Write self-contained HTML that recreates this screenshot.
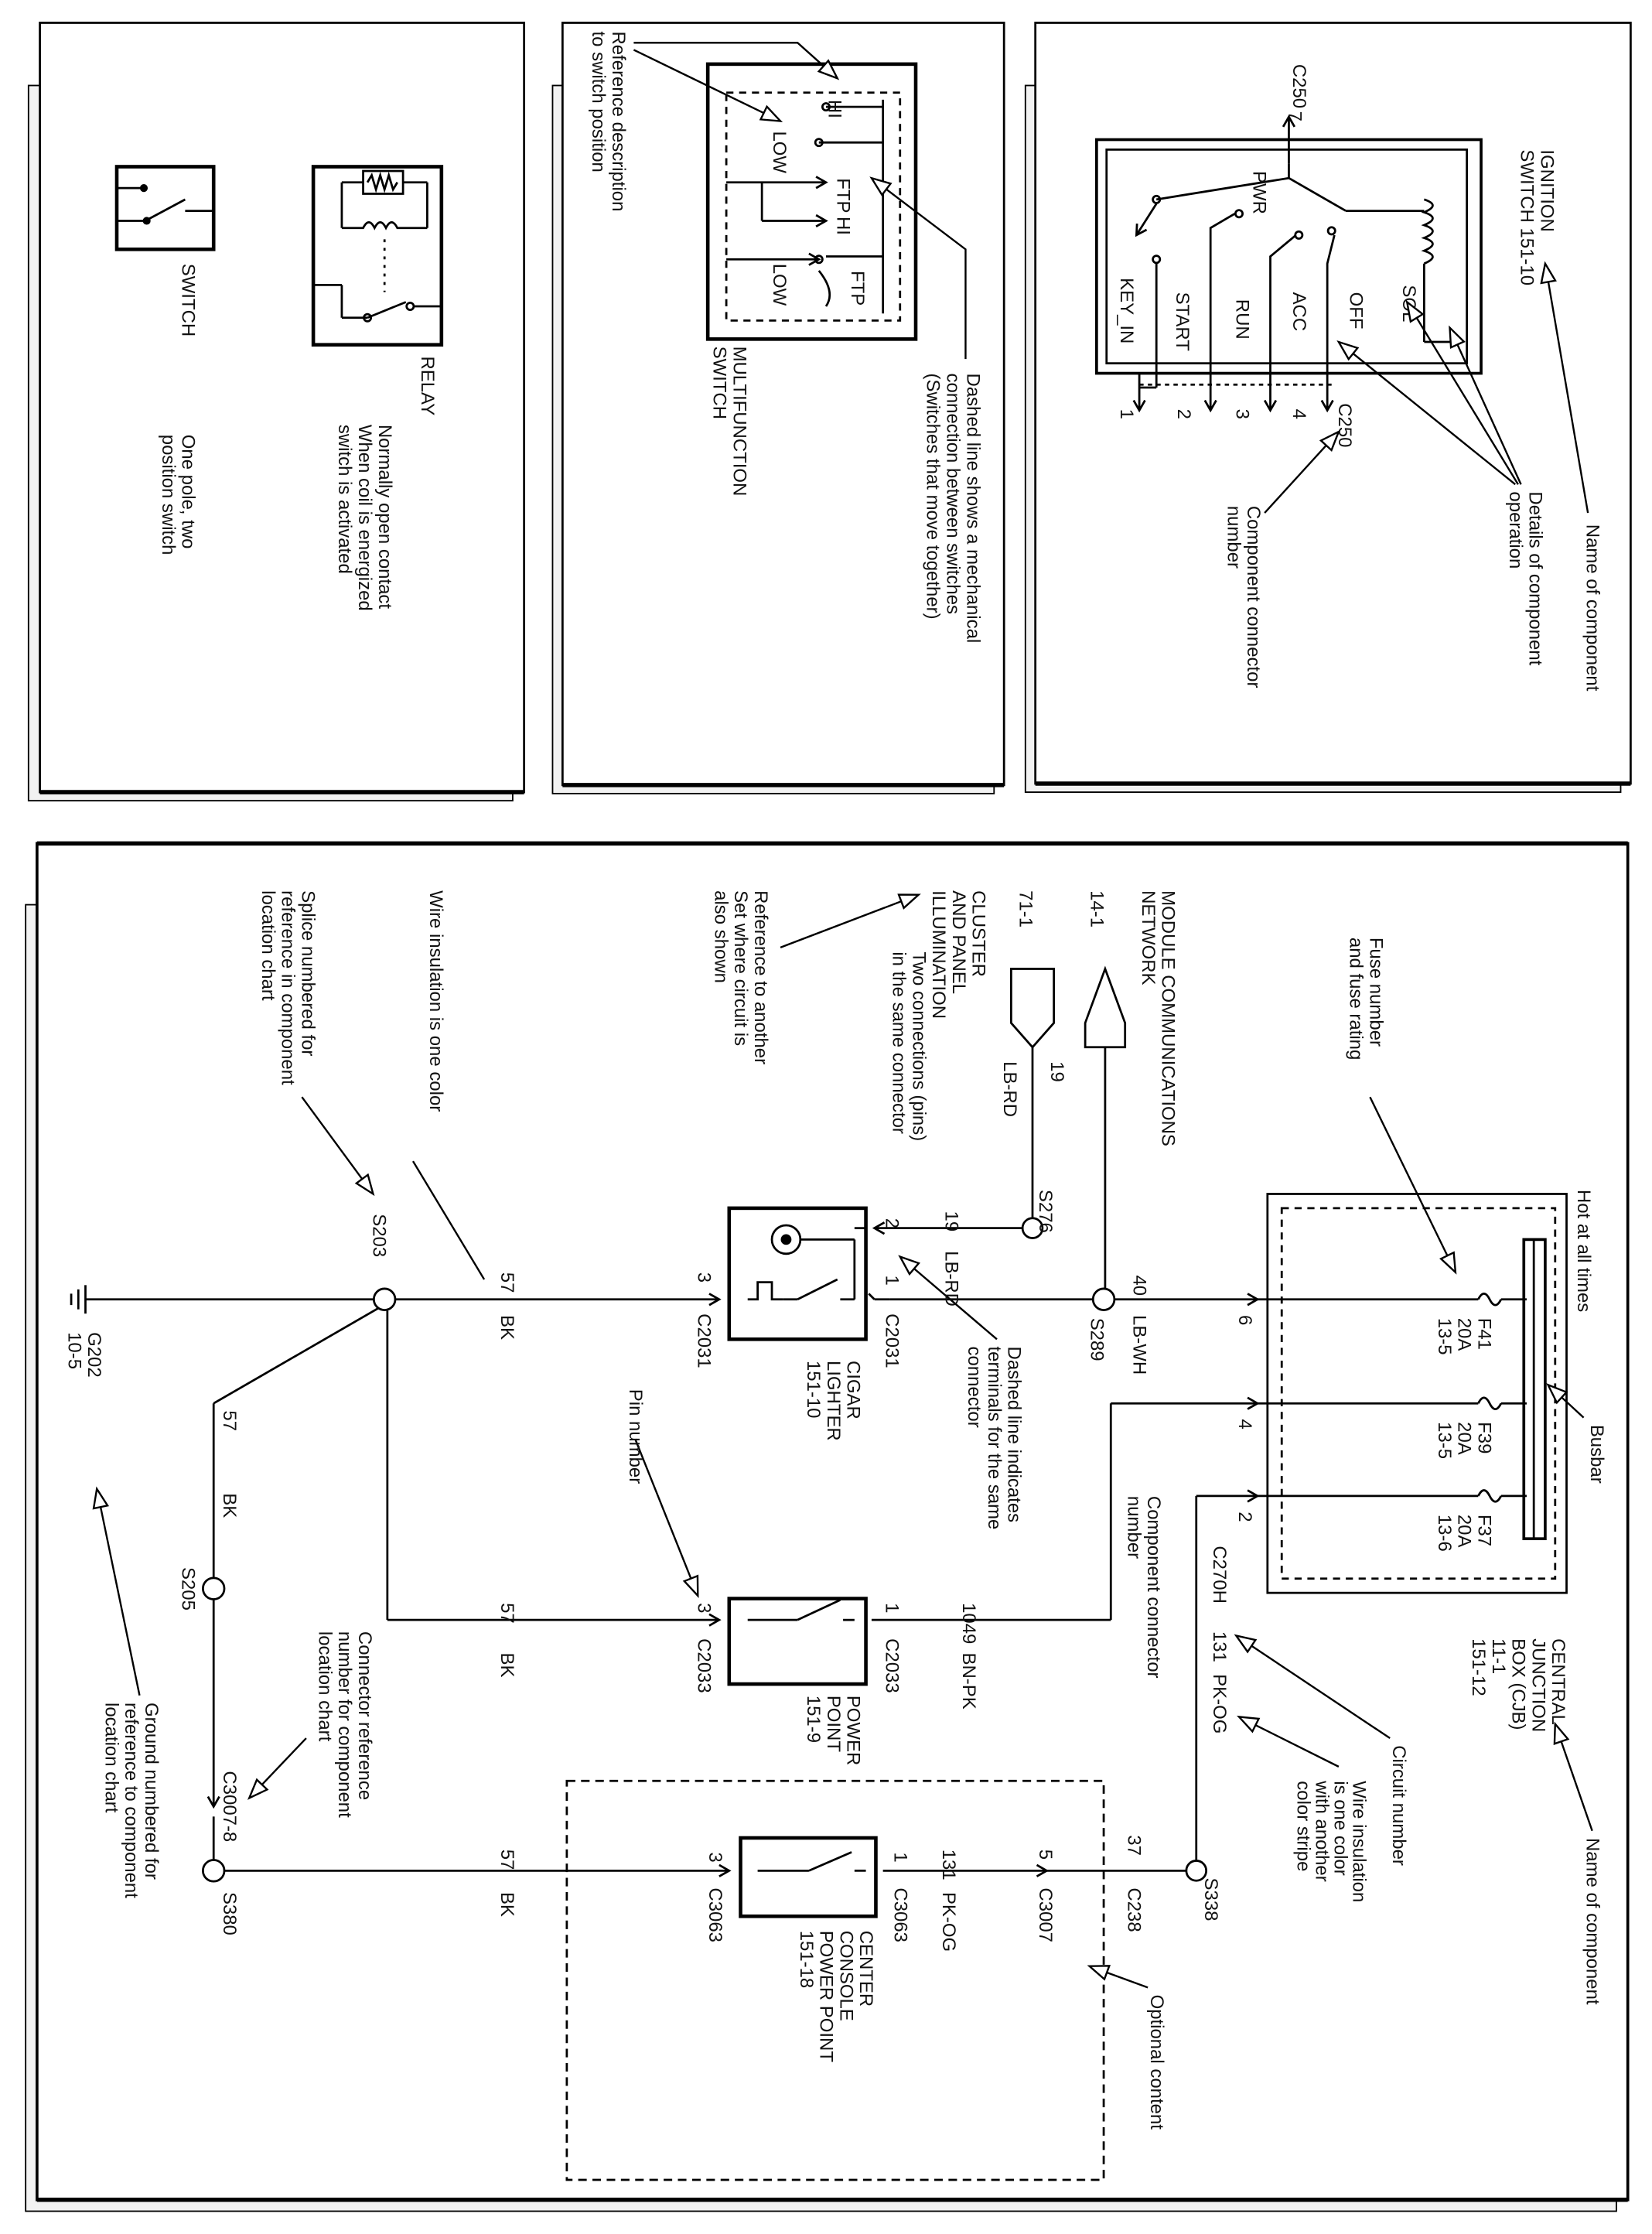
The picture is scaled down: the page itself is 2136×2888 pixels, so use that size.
<!DOCTYPE html>
<html><head><meta charset="utf-8"><style>
html,body{margin:0;padding:0;background:#fff;}
svg{display:block;}
text{font-family:"Liberation Sans",Arial,sans-serif;font-size:13px;fill:#111;}
.t{font-size:13px}
</style></head><body>
<svg width="2136" height="2888" viewBox="0 0 1160 1568" preserveAspectRatio="none" xmlns="http://www.w3.org/2000/svg">
<defs>
<marker id="h" markerWidth="16" markerHeight="12" refX="14" refY="6" orient="auto" markerUnits="userSpaceOnUse">
<path d="M1,1 L14,6 L1,11 Z" fill="#fff" stroke="#000" stroke-width="1.3"/></marker>
<marker id="s" markerWidth="10" markerHeight="10" refX="8" refY="5" orient="auto" markerUnits="userSpaceOnUse">
<path d="M1,1 L8,5 L1,9" fill="none" stroke="#000" stroke-width="1.5"/></marker>
</defs>
<rect width="1160" height="1568" fill="#fff"/>

<!-- frames -->
<g stroke="#000" stroke-width="1">
<rect x="20" y="60" width="340" height="502" fill="#f2f2f2"/>
<rect x="28" y="16" width="340" height="540" fill="#fff" stroke-width="1.5"/>
<rect x="388" y="60" width="310" height="497" fill="#f2f2f2"/>
<rect x="395" y="16" width="310" height="535" fill="#fff" stroke-width="1.5"/>
<rect x="720" y="60" width="418" height="496" fill="#f2f2f2"/>
<rect x="727" y="16" width="418" height="534" fill="#fff" stroke-width="1.5"/>
<rect x="18" y="635" width="1117" height="917" fill="#f2f2f2"/>
<rect x="26" y="592" width="1117" height="952" fill="#fff" stroke-width="2"/>
</g>
<g stroke="#000" fill="none" stroke-width="1.5">
<line x1="28" y1="556" x2="368" y2="556" stroke-width="3"/>
<line x1="395" y1="551" x2="705" y2="551" stroke-width="3"/>
<line x1="727" y1="550" x2="1145" y2="550" stroke-width="3"/>
<line x1="26" y1="592" x2="1143" y2="592" stroke-width="3"/>
<line x1="26" y1="1544" x2="1143" y2="1544" stroke-width="3"/>
</g>

<!-- PANEL 1 -->
<g stroke="#000" fill="none" stroke-width="1.5">
<rect x="82" y="117" width="68" height="58" stroke-width="2.5"/>
<line x1="82" y1="155" x2="102" y2="155"/><line x1="102" y1="155" x2="130" y2="140"/>
<line x1="130" y1="148" x2="150" y2="148"/><line x1="100" y1="132" x2="82" y2="132"/>
<circle cx="101" cy="132" r="2" fill="#000"/><circle cx="103" cy="155" r="2" fill="#000"/>
<rect x="220" y="117" width="90" height="125" stroke-width="2.5"/>
<rect x="255" y="120" width="28" height="16"/>
<path d="M258,128 l3,-5 l3,10 l3,-10 l3,10 l3,-10 l3,10 l3,-5"/>
<line x1="240" y1="128" x2="255" y2="128"/><line x1="283" y1="128" x2="300" y2="128"/>
<line x1="240" y1="128" x2="240" y2="160"/><line x1="300" y1="128" x2="300" y2="160"/>
<path d="M240,160 L255,160 q4,-8 8,0 q4,-8 8,0 q4,-8 8,0 L300,160"/>
<line x1="270" y1="168" x2="270" y2="205" stroke-dasharray="2,4"/>
<line x1="220" y1="200" x2="240" y2="200"/><line x1="240" y1="200" x2="240" y2="223"/>
<line x1="240" y1="223" x2="258" y2="223"/><line x1="258" y1="223" x2="285" y2="212"/>
<line x1="290" y1="215" x2="310" y2="215"/>
<circle cx="258" cy="223" r="2.5"/><circle cx="288" cy="215" r="2.5"/>
</g>
<text transform="translate(128,185) rotate(90)">SWITCH</text>
<text transform="translate(296,250) rotate(90)">RELAY</text>
<text transform="translate(266,298) rotate(90)">Normally open contact</text>
<text transform="translate(252,298) rotate(90)">When coil is energized</text>
<text transform="translate(238,298) rotate(90)">switch is activated</text>
<text transform="translate(128,305) rotate(90)">One pole, two</text>
<text transform="translate(114,305) rotate(90)">position switch</text>

<!-- PANEL 2 -->
<g stroke="#000" fill="none" stroke-width="1.5">
<rect x="497" y="45" width="146" height="193" stroke-width="2.5"/>
<rect x="510" y="65" width="122" height="160" stroke-dasharray="5,4"/>
<line x1="620" y1="70" x2="620" y2="220"/>
<line x1="575" y1="100" x2="620" y2="100"/><circle cx="575" cy="100" r="2.5"/>
<line x1="580" y1="75" x2="620" y2="75"/><circle cx="580" cy="75" r="2.5"/>
<line x1="510" y1="128" x2="580" y2="128" marker-end="url(#s)"/>
<line x1="535" y1="128" x2="535" y2="155"/><line x1="535" y1="155" x2="580" y2="155" marker-end="url(#s)"/>
<line x1="580" y1="180" x2="620" y2="180"/><circle cx="575" cy="182" r="2.5"/>
<line x1="510" y1="182" x2="575" y2="182" marker-end="url(#s)"/>
<path d="M575,190 q12,15 5,25"/>
</g>
<text transform="translate(582,70) rotate(90)">HI</text>
<text transform="translate(543,92) rotate(90)">LOW</text>
<text transform="translate(588,125) rotate(90)">FTP</text>
<text transform="translate(588,152) rotate(90)">HI</text>
<text transform="translate(543,185) rotate(90)">LOW</text>
<text transform="translate(598,190) rotate(90)">FTP</text>
<text transform="translate(430,22) rotate(90)">Reference description</text>
<text transform="translate(416,22) rotate(90)">to switch position</text>
<text transform="translate(515,243) rotate(90)">MULTIFUNCTION</text>
<text transform="translate(501,243) rotate(90)">SWITCH</text>
<text transform="translate(679,262) rotate(90)">Dashed line shows a mechanical</text>
<text transform="translate(665,262) rotate(90)">connection between switches</text>
<text transform="translate(651,262) rotate(90)">(Switches that move together)</text>
<g stroke="#000" fill="none" stroke-width="1.3">
<polyline points="445,30 560,30 588,55" marker-end="url(#h)"/>
<line x1="445" y1="35" x2="548" y2="85" marker-end="url(#h)"/>
<polyline points="678,252 678,175 612,125" marker-end="url(#h)"/>
</g>

<!-- PANEL 3 -->
<g stroke="#000" fill="none" stroke-width="1.5">
<rect x="770" y="98" width="270" height="164" stroke-width="2"/>
<rect x="777" y="105" width="253" height="150"/>
<line x1="905" y1="115" x2="905" y2="82" marker-end="url(#s)"/>
<line x1="905" y1="115" x2="905" y2="125"/>
<line x1="905" y1="125" x2="945" y2="148"/>
<line x1="945" y1="148" x2="1000" y2="148"/>
<path d="M1000,140 q12,4 0,9 q12,4 0,9 q12,4 0,9 q12,4 0,9 q12,4 0,9"/>
<line x1="1000" y1="185" x2="1000" y2="240"/><line x1="1000" y1="240" x2="1020" y2="240"/>
<line x1="905" y1="125" x2="812" y2="140"/><circle cx="812" cy="140" r="2.5"/>
<line x1="812" y1="143" x2="798" y2="165" marker-end="url(#s)"/>
<circle cx="812" cy="182" r="2.5"/><line x1="812" y1="185" x2="812" y2="272"/><line x1="812" y1="272" x2="800" y2="272"/>
<line x1="800" y1="262" x2="800" y2="288" marker-end="url(#s)"/>
<circle cx="870" cy="150" r="2.5"/><polyline points="867,150 850,160 850,288" marker-end="url(#s)"/>
<circle cx="912" cy="165" r="2.5"/><polyline points="910,165 892,180 892,288" marker-end="url(#s)"/>
<circle cx="935" cy="162" r="2.5"/><polyline points="937,165 932,185 932,288" marker-end="url(#s)"/>
<line x1="800" y1="270" x2="935" y2="270" stroke-dasharray="3,3"/>
</g>
<text transform="translate(908,45) rotate(90)">C250</text>
<text transform="translate(905,78) rotate(90)">7</text>
<text transform="translate(1082,105) rotate(90)">IGNITION</text>
<text transform="translate(1068,105) rotate(90)">SWITCH   151-10</text>
<text transform="translate(880,120) rotate(90)">PWR</text>
<text transform="translate(787,195) rotate(90)">KEY_IN</text>
<text transform="translate(826,205) rotate(90)">START</text>
<text transform="translate(868,210) rotate(90)">RUN</text>
<text transform="translate(908,205) rotate(90)">ACC</text>
<text transform="translate(948,205) rotate(90)">OFF</text>
<text transform="translate(985,200) rotate(90)">SOL</text>
<text transform="translate(787,287) rotate(90)">1</text>
<text transform="translate(827,287) rotate(90)">2</text>
<text transform="translate(868,287) rotate(90)">3</text>
<text transform="translate(908,287) rotate(90)">4</text>
<text transform="translate(940,283) rotate(90)">C250</text>
<text transform="translate(876,355) rotate(90)">Component connector</text>
<text transform="translate(862,355) rotate(90)">number</text>
<text transform="translate(1074,345) rotate(90)">Details of component</text>
<text transform="translate(1060,345) rotate(90)">operation</text>
<text transform="translate(1114,368) rotate(90)">Name of component</text>
<g stroke="#000" fill="none" stroke-width="1.3">
<line x1="1115" y1="360" x2="1085" y2="185" marker-end="url(#h)"/>
<line x1="1068" y1="340" x2="1018" y2="230" marker-end="url(#h)"/>
<line x1="1066" y1="340" x2="988" y2="212" marker-end="url(#h)"/>
<line x1="1064" y1="340" x2="940" y2="240" marker-end="url(#h)"/>
<line x1="888" y1="360" x2="940" y2="303" marker-end="url(#h)"/>
</g>

<!-- BOTTOM PANEL wires -->
<g stroke="#000" fill="none" stroke-width="1.5">
<!-- ground -->
<line x1="60" y1="912" x2="263" y2="912"/>
<line x1="60" y1="902" x2="60" y2="922"/><line x1="55" y1="905" x2="55" y2="919"/><line x1="50" y1="908" x2="50" y2="916"/>
<circle cx="270" cy="912" r="7.5"/>
<line x1="277" y1="912" x2="505" y2="912" marker-end="url(#s)"/>
<rect x="512" y="848" width="96" height="92" stroke-width="2.5"/>
<line x1="614" y1="912" x2="625" y2="912"/><line x1="614" y1="912" x2="610" y2="908"/>
<line x1="625" y1="912" x2="768" y2="912"/>
<circle cx="775" cy="912" r="7.5"/>
<line x1="782" y1="912" x2="883" y2="912" marker-end="url(#s)"/>
<line x1="883" y1="912" x2="1038" y2="912"/>
<path d="M1038,912 q4,-8 8,0 q4,8 8,0"/>
<line x1="1054" y1="912" x2="1072" y2="912"/>
<!-- cigar lighter internals -->
<circle cx="552" cy="870" r="10"/><circle cx="552" cy="870" r="3" fill="#000"/>
<line x1="562" y1="870" x2="600" y2="870"/><line x1="600" y1="870" x2="600" y2="912"/>
<path d="M525,912 L532,912 L532,900 L542,900 L542,912 L550,912" />
<line x1="550" y1="912" x2="560" y2="912"/><line x1="560" y1="912" x2="588" y2="898"/>
<line x1="590" y1="912" x2="600" y2="912"/>
<!-- 19 LB-RD wire -->
<line x1="725" y1="735" x2="725" y2="855"/>
<circle cx="725" cy="862" r="7"/>
<line x1="718" y1="862" x2="614" y2="862" marker-end="url(#s)"/>
<line x1="608" y1="862" x2="600" y2="862"/>
<path d="M710,680 L740,680 L740,718 L725,735 L710,718 Z"/>
<path d="M762,718 L776,680 L790,718 L790,735 L762,735 Z"/>
<line x1="776" y1="735" x2="776" y2="905"/>
<!-- diagonal from S203 -->
<line x1="266" y1="918" x2="150" y2="985"/>
<line x1="150" y1="985" x2="150" y2="1108"/>
<circle cx="150" cy="1115" r="7.5"/>
<line x1="150" y1="1122" x2="150" y2="1268" marker-end="url(#s)"/>
<circle cx="150" cy="1313" r="7.5"/>
<line x1="150" y1="1275" x2="150" y2="1306"/>
<!-- power point line -->
<line x1="272" y1="920" x2="272" y2="1137"/>
<line x1="272" y1="1137" x2="505" y2="1137" marker-end="url(#s)"/>
<rect x="512" y="1122" width="96" height="60" stroke-width="2.5"/>
<line x1="525" y1="1137" x2="560" y2="1137"/><line x1="560" y1="1137" x2="590" y2="1123"/><line x1="592" y1="1137" x2="600" y2="1137"/>
<line x1="612" y1="1137" x2="780" y2="1137"/>
<line x1="780" y1="1137" x2="780" y2="985"/>
<line x1="780" y1="985" x2="883" y2="985" marker-end="url(#s)"/>
<line x1="883" y1="985" x2="1038" y2="985"/>
<path d="M1038,985 q4,-8 8,0 q4,8 8,0"/><line x1="1054" y1="985" x2="1072" y2="985"/>
<!-- S338 line -->
<line x1="157" y1="1313" x2="512" y2="1313" marker-end="url(#s)"/>
<rect x="520" y="1290" width="95" height="55" stroke-width="2.5"/>
<line x1="532" y1="1313" x2="568" y2="1313"/><line x1="568" y1="1313" x2="598" y2="1300"/><line x1="600" y1="1313" x2="608" y2="1313"/>
<line x1="620" y1="1313" x2="735" y2="1313" marker-end="url(#s)"/>
<line x1="735" y1="1313" x2="833" y2="1313"/>
<circle cx="840" cy="1313" r="7"/>
<line x1="840" y1="1306" x2="840" y2="1050"/>
<line x1="840" y1="1050" x2="883" y2="1050" marker-end="url(#s)"/>
<line x1="883" y1="1050" x2="1038" y2="1050"/>
<path d="M1038,1050 q4,-8 8,0 q4,8 8,0"/><line x1="1054" y1="1050" x2="1072" y2="1050"/>
<!-- CJB -->
<rect x="890" y="838" width="210" height="280"/>
<rect x="900" y="848" width="192" height="260" stroke-dasharray="5,4"/>
<rect x="1070" y="870" width="15" height="210" stroke-width="2"/>
<line x1="1077" y1="870" x2="1077" y2="1080"/>
<!-- optional dashed box -->
<rect x="398" y="1250" width="377" height="280" stroke-dasharray="6,4"/>
</g>
<g stroke="#000" fill="none" stroke-width="1.3">
<line x1="962" y1="770" x2="1022" y2="893" marker-end="url(#h)"/>
<line x1="1112" y1="995" x2="1087" y2="972" marker-end="url(#h)"/>
<line x1="1118" y1="1285" x2="1092" y2="1210" marker-end="url(#h)"/>
<line x1="976" y1="1220" x2="868" y2="1148" marker-end="url(#h)"/>
<line x1="940" y1="1240" x2="870" y2="1205" marker-end="url(#h)"/>
<line x1="806" y1="1395" x2="765" y2="1380" marker-end="url(#h)"/>
<line x1="446" y1="1010" x2="490" y2="1120" marker-end="url(#h)"/>
<line x1="700" y1="940" x2="632" y2="882" marker-end="url(#h)"/>
<line x1="548" y1="665" x2="645" y2="628" marker-end="url(#h)"/>
<line x1="212" y1="770" x2="262" y2="838" marker-end="url(#h)"/>
<line x1="290" y1="815" x2="340" y2="898"/>
<line x1="215" y1="1220" x2="175" y2="1262" marker-end="url(#h)"/>
<line x1="98" y1="1190" x2="68" y2="1045" marker-end="url(#h)"/>
</g>

<!-- bottom labels -->
<text transform="translate(1108,835) rotate(90)">Hot at all times</text>
<text transform="translate(1117,1000) rotate(90)">Busbar</text>
<text transform="translate(962,658) rotate(90)">Fuse number</text>
<text transform="translate(948,658) rotate(90)">and fuse rating</text>
<text transform="translate(1038,925) rotate(90)">F41</text>
<text transform="translate(1024,925) rotate(90)">20A</text>
<text transform="translate(1010,925) rotate(90)">13-5</text>
<text transform="translate(1038,998) rotate(90)">F39</text>
<text transform="translate(1024,998) rotate(90)">20A</text>
<text transform="translate(1010,998) rotate(90)">13-5</text>
<text transform="translate(1038,1063) rotate(90)">F37</text>
<text transform="translate(1024,1063) rotate(90)">20A</text>
<text transform="translate(1010,1063) rotate(90)">13-6</text>
<text transform="translate(1090,1150) rotate(90)">CENTRAL</text>
<text transform="translate(1076,1150) rotate(90)">JUNCTION</text>
<text transform="translate(1062,1150) rotate(90)">BOX (CJB)</text>
<text transform="translate(1048,1150) rotate(90)">11-1</text>
<text transform="translate(1034,1150) rotate(90)">151-12</text>
<text transform="translate(1114,1290) rotate(90)">Name of component</text>
<text transform="translate(978,1225) rotate(90)">Circuit number</text>
<text transform="translate(950,1250) rotate(90)">Wire insulation</text>
<text transform="translate(937,1250) rotate(90)">is one color</text>
<text transform="translate(924,1250) rotate(90)">with another</text>
<text transform="translate(911,1250) rotate(90)">color stripe</text>
<text transform="translate(806,1050) rotate(90)">Component connector</text>
<text transform="translate(792,1050) rotate(90)">number</text>
<text transform="translate(870,923) rotate(90)">6</text>
<text transform="translate(870,996) rotate(90)">4</text>
<text transform="translate(870,1061) rotate(90)">2</text>
<text transform="translate(852,1085) rotate(90)">C270H</text>
<text transform="translate(852,1145) rotate(90)">131</text>
<text transform="translate(852,1175) rotate(90)">PK-OG</text>
<text transform="translate(796,895) rotate(90)">40</text>
<text transform="translate(796,923) rotate(90)">LB-WH</text>
<text transform="translate(766,925) rotate(90)">S289</text>
<text transform="translate(730,835) rotate(90)">S276</text>
<text transform="translate(664,850) rotate(90)">19</text>
<text transform="translate(664,878) rotate(90)">LB-RD</text>
<text transform="translate(738,745) rotate(90)">19</text>
<text transform="translate(705,745) rotate(90)">LB-RD</text>
<text transform="translate(816,625) rotate(90)">MODULE COMMUNICATIONS</text>
<text transform="translate(802,625) rotate(90)">NETWORK</text>
<text transform="translate(766,625) rotate(90)">14-1</text>
<text transform="translate(716,625) rotate(90)">71-1</text>
<text transform="translate(683,625) rotate(90)">CLUSTER</text>
<text transform="translate(669,625) rotate(90)">AND PANEL</text>
<text transform="translate(655,625) rotate(90)">ILLUMINATION</text>
<text transform="translate(641,668) rotate(90)">Two connections (pins)</text>
<text transform="translate(627,668) rotate(90)">in the same connector</text>
<text transform="translate(530,625) rotate(90)">Reference to another</text>
<text transform="translate(516,625) rotate(90)">Set where circuit is</text>
<text transform="translate(502,625) rotate(90)">also shown</text>
<text transform="translate(622,855) rotate(90)">2</text>
<text transform="translate(622,895) rotate(90)">1</text>
<text transform="translate(622,922) rotate(90)">C2031</text>
<text transform="translate(490,893) rotate(90)">3</text>
<text transform="translate(490,922) rotate(90)">C2031</text>
<text transform="translate(595,955) rotate(90)">CIGAR</text>
<text transform="translate(581,955) rotate(90)">LIGHTER</text>
<text transform="translate(567,955) rotate(90)">151-10</text>
<text transform="translate(708,945) rotate(90)">Dashed line indicates</text>
<text transform="translate(694,945) rotate(90)">terminals for the same</text>
<text transform="translate(680,945) rotate(90)">connector</text>
<text transform="translate(442,975) rotate(90)">Pin number</text>
<text transform="translate(352,893) rotate(90)">57</text>
<text transform="translate(352,923) rotate(90)">BK</text>
<text transform="translate(302,625) rotate(90)">Wire insulation is one color</text>
<text transform="translate(212,625) rotate(90)">Splice numbered for</text>
<text transform="translate(198,625) rotate(90)">reference in component</text>
<text transform="translate(184,625) rotate(90)">location chart</text>
<text transform="translate(262,852) rotate(90)">S203</text>
<text transform="translate(62,935) rotate(90)">G202</text>
<text transform="translate(48,935) rotate(90)">10-5</text>
<text transform="translate(157,990) rotate(90)">57</text>
<text transform="translate(157,1048) rotate(90)">BK</text>
<text transform="translate(128,1100) rotate(90)">S205</text>
<text transform="translate(157,1243) rotate(90)">C3007-8</text>
<text transform="translate(157,1328) rotate(90)">S380</text>
<text transform="translate(252,1145) rotate(90)">Connector reference</text>
<text transform="translate(238,1145) rotate(90)">number for component</text>
<text transform="translate(224,1145) rotate(90)">location chart</text>
<text transform="translate(102,1195) rotate(90)">Ground numbered for</text>
<text transform="translate(88,1195) rotate(90)">reference to component</text>
<text transform="translate(74,1195) rotate(90)">location chart</text>
<text transform="translate(352,1125) rotate(90)">57</text>
<text transform="translate(352,1160) rotate(90)">BK</text>
<text transform="translate(490,1125) rotate(90)">3</text>
<text transform="translate(490,1150) rotate(90)">C2033</text>
<text transform="translate(622,1125) rotate(90)">1</text>
<text transform="translate(622,1150) rotate(90)">C2033</text>
<text transform="translate(595,1190) rotate(90)">POWER</text>
<text transform="translate(581,1190) rotate(90)">POINT</text>
<text transform="translate(567,1190) rotate(90)">151-9</text>
<text transform="translate(676,1125) rotate(90)">1049</text>
<text transform="translate(676,1160) rotate(90)">BN-PK</text>
<text transform="translate(352,1298) rotate(90)">57</text>
<text transform="translate(352,1328) rotate(90)">BK</text>
<text transform="translate(498,1300) rotate(90)">3</text>
<text transform="translate(498,1325) rotate(90)">C3063</text>
<text transform="translate(628,1300) rotate(90)">1</text>
<text transform="translate(628,1325) rotate(90)">C3063</text>
<text transform="translate(604,1355) rotate(90)">CENTER</text>
<text transform="translate(590,1355) rotate(90)">CONSOLE</text>
<text transform="translate(576,1355) rotate(90)">POWER POINT</text>
<text transform="translate(562,1355) rotate(90)">151-18</text>
<text transform="translate(662,1298) rotate(90)">131</text>
<text transform="translate(662,1328) rotate(90)">PK-OG</text>
<text transform="translate(730,1298) rotate(90)">5</text>
<text transform="translate(730,1325) rotate(90)">C3007</text>
<text transform="translate(792,1288) rotate(90)">37</text>
<text transform="translate(792,1325) rotate(90)">C238</text>
<text transform="translate(846,1318) rotate(90)">S338</text>
<text transform="translate(808,1400) rotate(90)">Optional content</text>
</svg>
</body></html>
